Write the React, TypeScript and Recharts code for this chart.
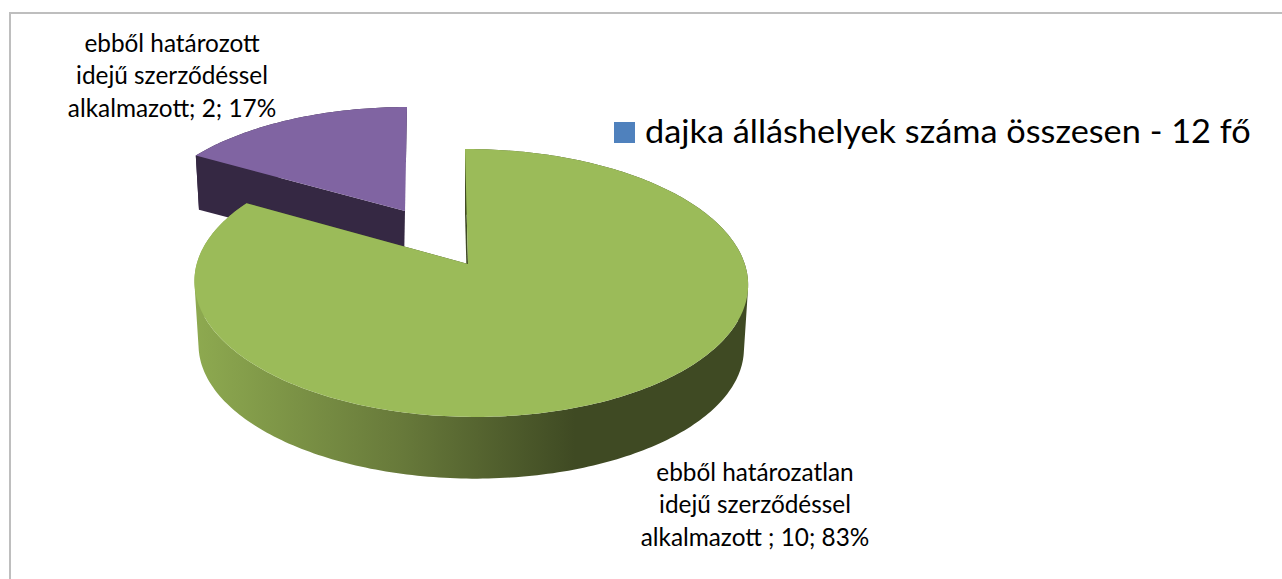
import React from 'react';
import { Legend, Pie, PieChart } from 'recharts';

const LEGEND_LABEL = 'dajka álláshelyek száma összesen - 12 fő';

const fixedTermLines = ['ebből határozott', 'idejű szerződéssel', 'alkalmazott'];
const openEndedLines = ['ebből határozatlan', 'idejű szerződéssel', 'alkalmazott '];

const categories = [fixedTermLines.join(' '), openEndedLines.join(' '), LEGEND_LABEL];
const headcounts = [2, 10, 0];
const fills = ['#8064A2', '#9BBB59', '#4F81BD'];

const tableData = categories.map((name, i) => ({
  name,
  value: headcounts[i],
  fill: fills[i],
}));

const labelLines: { [name: string]: string[] } = {
  [categories[0]]: fixedTermLines,
  [categories[1]]: openEndedLines,
};

// How each slice sits in the fake 3D view. Angles still come from the Pie.
const looks: { [name: string]: any } = {
  [categories[0]]: {
    offsetX: -63,
    offsetY: -53,
    radiusScale: 0.95,
    tilt: 0.457,
    perspective: 0.144,
    skew: 0,
    shear: 0.0088,
    dropX: -1,
    dropY: 53,
    dropScale: 0.98,
    wall: '#352843',
    labelX: -296,
    labelY: -212,
  },
  [categories[1]]: {
    offsetX: 0,
    offsetY: 0,
    radiusScale: 1,
    tilt: 0.479,
    perspective: 0.1418,
    skew: -0.01,
    shear: -0.0125,
    dropX: 0,
    dropY: 64,
    dropScale: 0.985,
    wall: '#3F4A23',
    band: 'url(#greenWall)',
    labelX: 287,
    labelY: 217,
  },
};

const RAD = Math.PI / 180;

const project = (cx: number, cy: number, r: number, deg: number, look: any) => {
  const sin = Math.sin(deg * RAD);
  const cos = Math.cos(deg * RAD);
  const s = 1 / (1 + look.perspective * sin + look.skew * cos);
  return [cx + r * s * (cos + look.shear * sin), cy - look.tilt * r * s * sin];
};

const toPath = (points: number[][]) =>
  points.map((p, i) => `${i ? 'L' : 'M'}${p[0].toFixed(2)} ${p[1].toFixed(2)}`).join(' ') + ' Z';

const signedArea = (pts: number[][]) =>
  pts.reduce((sum, p, i) => {
    const q = pts[(i + 1) % pts.length];
    return sum + p[0] * q[1] - q[0] * p[1];
  }, 0);

const Slice3D = (props: any) => {
  const { cx, cy, outerRadius, startAngle, endAngle, fill, name, value } = props;
  const look = looks[name];
  if (!look || !value) return null;

  const topX = cx + look.offsetX;
  const topY = cy + look.offsetY;
  const r = outerRadius * look.radiusScale;
  const top = (a: number) => project(topX, topY, r, a, look);
  const low = (a: number) =>
    project(topX + look.dropX, topY + look.dropY, r * look.dropScale, a, look);

  const angles: number[] = [];
  const steps = Math.ceil(Math.abs(endAngle - startAngle));
  for (let i = 0; i <= steps; i++) {
    angles.push(startAngle + ((endAngle - startAngle) * i) / steps);
  }

  // side wall as one path of small quads, all wound the same way so the fold at
  // the left and right ends doesn't cancel out under the nonzero fill rule
  const bandPath = angles
    .slice(1)
    .map((a, i) => {
      const quad = [top(angles[i]), top(a), low(a), low(angles[i])];
      return toPath(signedArea(quad) < 0 ? [...quad].reverse() : quad);
    })
    .join(' ');

  const apexTop = [topX, topY];
  const apexLow = [topX + look.dropX, topY + look.dropY];

  return (
    <g>
      <defs>
        <linearGradient id="greenWall" gradientUnits="userSpaceOnUse" x1="193" y1="0" x2="575" y2="0">
          <stop offset="0%" stopColor="#8EAA50" />
          <stop offset="55%" stopColor="#67793A" />
          <stop offset="100%" stopColor="#3F4A23" />
        </linearGradient>
      </defs>
      <path d={bandPath} fill={look.band || look.wall} />
      <path d={toPath([top(startAngle), apexTop, apexLow, low(startAngle)])} fill={look.wall} />
      <path d={toPath([top(endAngle), apexTop, apexLow, low(endAngle)])} fill={look.wall} />
      <path d={toPath([apexTop, ...angles.map(top)])} fill={fill} />
    </g>
  );
};

const renderLabel = (props: any) => {
  const { cx, cy, name, value, percent } = props;
  const look = looks[name];
  if (!look || !value) return null;
  const lines = labelLines[name];
  const x = cx + look.labelX;
  const y = cy + look.labelY;
  const texts = [lines[0], lines[1], `${lines[2]}; ${value}; ${Math.round(percent * 100)}%`];
  return (
    <g transform={`translate(${x} ${y}) scale(0.975 1)`}>
      {texts.map((t, i) => (
        <text
          key={t}
          x={0}
          y={i * 32.5}
          textAnchor="middle"
          fontFamily="Lato"
          fontSize={25}
          fill="#000"
        >
          {t}
        </text>
      ))}
    </g>
  );
};

const LegendBox = ({ payload }: any) => {
  const entry = (payload || []).find((e: any) => e.value === LEGEND_LABEL);
  return (
    <svg width={660} height={50} style={{ display: 'block' }}>
      <rect x={0} y={10} width={21} height={21} fill={fills[2]} />
      <g transform="translate(31 31) scale(1.0725 1)">
        <text x={0} y={0} fontFamily="Lato" fontSize={32} fill="#000">
          {entry ? entry.value : LEGEND_LABEL}
        </text>
      </g>
    </svg>
  );
};

export default function App() {
  return (
    <div style={{ position: 'absolute', left: 0, top: 0, width: 1282, height: 579, background: '#fff', overflow: 'hidden' }}>
      <div
        style={{
          position: 'absolute',
          left: 9,
          top: 12,
          right: -4,
          bottom: -4,
          borderLeft: '2px solid #BEBEBE',
          borderTop: '2px solid #BEBEBE',
        }}
      />
      <PieChart width={1282} height={579} margin={{ top: 0, right: 0, bottom: 0, left: 0 }}>
        <Pie
          data={tableData}
          dataKey="value"
          nameKey="name"
          cx={468}
          cy={264}
          innerRadius={0}
          outerRadius={274}
          startAngle={150}
          endAngle={-210}
          stroke="none"
          shape={Slice3D}
          label={renderLabel}
          labelLine={false}
          isAnimationActive={false}
        />
        <Legend
          content={LegendBox}
          wrapperStyle={{ position: 'absolute', left: 614, top: 112, width: 660, height: 50, bottom: 'auto' }}
        />
      </PieChart>
    </div>
  );
}
